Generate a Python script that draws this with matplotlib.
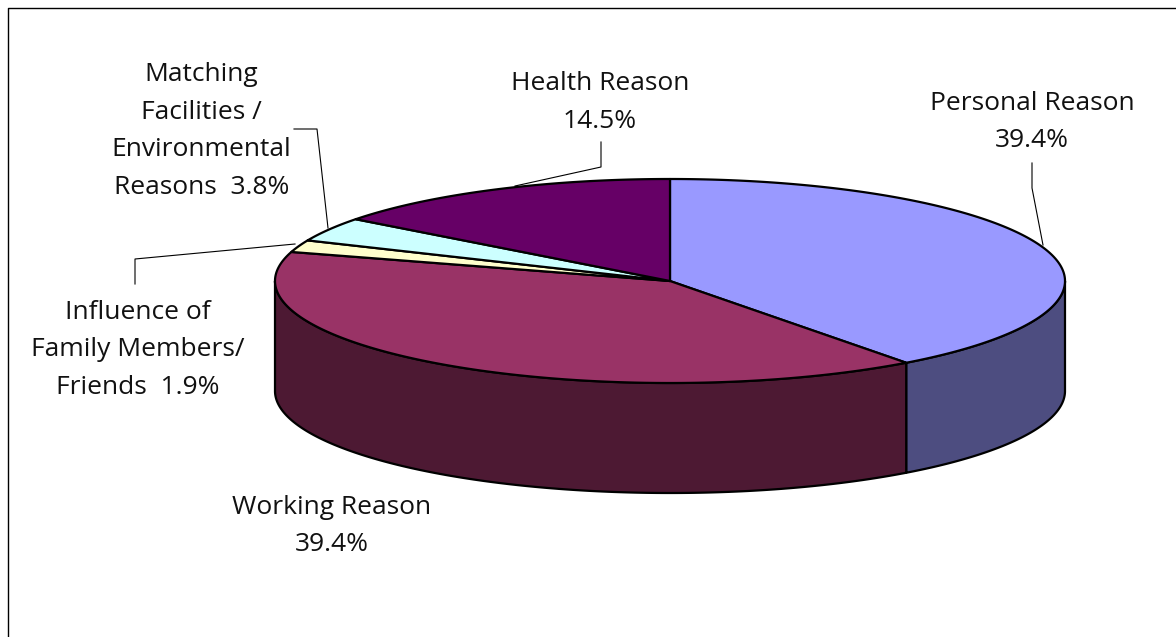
import numpy as np
import matplotlib
matplotlib.use("Agg")
import matplotlib.pyplot as plt
from matplotlib.patches import Polygon

categories = ["Personal Reason", "Working Reason", "Influence of Family Members/ Friends",
              "Matching Facilities / Environmental Reasons", "Health Reason"]
values = [39.4, 39.4, 1.9, 3.8, 14.5]
top_colors = ["#9999FF", "#993366", "#FFFFCC", "#CCFFFF", "#660066"]
side_colors = ["#4D4D80", "#4D1933", "#808066", "#668080", "#330033"]
label_texts = ["Personal Reason\n39.4%", "Working Reason\n39.4%", "Influence of\nFamily Members/\nFriends  1.9%",
               "Matching\nFacilities /\nEnvironmental\nReasons  3.8%", "Health Reason\n14.5%"]
label_pos = [(1032, 122), (332, 526), (138, 350), (201.5, 131), (600, 102.5)]
leaders = [[(1032, 163), (1032, 188), (1043, 245)],
           None,
           [(135, 284), (135, 259), (295, 244)],
           [(294, 129), (317, 129), (328, 228)],
           [(601, 142), (601, 167), (515, 186)]]

CX, CY, RX, RY, DEPTH = 670, 281, 395, 102, 110
W, H = 1176, 637

plt.rcParams["font.family"] = ["Open Sans", "DejaVu Sans"]
fig = plt.figure(figsize=(W / 100, H / 100), dpi=100)
ax = fig.add_axes([0, 0, 1, 1])
ax.set_xlim(0, W)
ax.set_ylim(H, 0)
ax.axis("off")

def rim(a0, a1, dy=0):
    t = np.radians(np.linspace(a0, a1, max(int(abs(a1 - a0) * 4), 2)))
    return np.column_stack([CX + RX * np.sin(t), CY + dy - RY * np.cos(t)])

fractions = np.array(values) / sum(values)
edges = np.concatenate([[0], np.cumsum(fractions) * 360])

for i in range(len(values)):
    a0, a1 = max(edges[i], 90), min(edges[i + 1], 270)
    if a1 > a0:
        pts = np.vstack([rim(a0, a1), rim(a1, a0, DEPTH)])
        ax.add_patch(Polygon(pts, closed=True, fc=side_colors[i], ec="black", lw=1.6, joinstyle="round", zorder=2))

for i in range(len(values)):
    pts = np.vstack([[(CX, CY)], rim(edges[i], edges[i + 1])])
    ax.add_patch(Polygon(pts, closed=True, fc=top_colors[i], ec="black", lw=1.6, joinstyle="round", zorder=3))

for pos, txt in zip(label_pos, label_texts):
    ax.text(pos[0], pos[1], txt, ha="center", va="center", fontsize=19, color="#111111",
            linespacing=1.66, zorder=5)

for seg in leaders:
    if seg:
        xs, ys = zip(*seg)
        ax.plot(xs, ys, color="black", lw=0.8, zorder=4)

ax.plot([7.5, 7.5, W], [H, 7.5, 7.5], color="black", lw=1.0, zorder=1)

fig.savefig("out.png", dpi=100, facecolor="white")
